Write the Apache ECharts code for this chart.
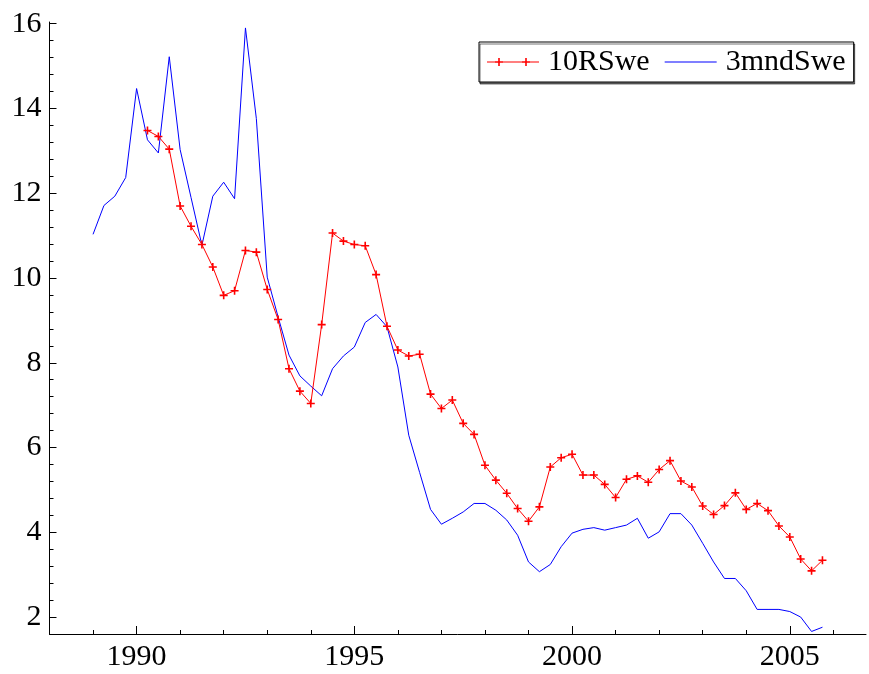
<!DOCTYPE html>
<html>
<head>
<meta charset="utf-8">
<script src="https://cdn.jsdelivr.net/npm/echarts@6/dist/echarts.min.js"></script>
<style>
html,body{margin:0;padding:0;background:#fff;}
#chart{width:869px;height:674px;}
</style>
</head>
<body>
<div id="chart"></div>
<script>
// ---- Data (quarterly) ----
var blueStart = 1989.0;   // 3mndSwe starts 1989 Q1
var redStart = 1990.25;   // 10RSwe starts 1990 Q2

var seriesNames = ['10RSwe', '3mndSwe'];

var swe3m = [
  11.03, 11.71, 11.93, 12.37,
  14.47, 13.26, 12.95, 15.22,
  13.03, 11.90, 10.77, 11.93,
  12.26, 11.87, 15.90, 13.76,
  10.02, 9.08, 8.18, 7.69,
  7.45, 7.22, 7.86, 8.16,
  8.37, 8.95, 9.14, 8.85,
  7.90, 6.29, 5.41, 4.54,
  4.19, 4.33, 4.48, 4.68,
  4.68, 4.52, 4.29, 3.93,
  3.30, 3.07, 3.24, 3.66,
  3.98, 4.07, 4.11, 4.05,
  4.11, 4.17, 4.33, 3.86,
  4.01, 4.44, 4.44, 4.17,
  3.74, 3.30, 2.91, 2.91,
  2.62, 2.18, 2.18, 2.18,
  2.13, 2.00, 1.66, 1.76
];

var swe10y = [
  13.48, 13.34, 13.04,
  11.70, 11.22, 10.79, 10.26,
  9.59, 9.70, 10.65, 10.61,
  9.73, 9.02, 7.86, 7.33,
  7.04, 8.90, 11.06, 10.87,
  10.79, 10.76, 10.08, 8.86,
  8.30, 8.16, 8.20, 7.26,
  6.92, 7.12, 6.57, 6.31,
  5.58, 5.23, 4.92, 4.56,
  4.26, 4.60, 5.54, 5.76,
  5.84, 5.35, 5.35, 5.13,
  4.82, 5.25, 5.33, 5.18,
  5.48, 5.69, 5.21, 5.07,
  4.62, 4.42, 4.63, 4.93,
  4.54, 4.68, 4.51, 4.15,
  3.89, 3.37, 3.09, 3.34
];

var xLabelYears = [1990, 1995, 2000, 2005];
var yLabelValues = [2, 4, 6, 8, 10, 12, 14, 16];

// ---- build ----
function toPairs(start, vals) {
  return vals.map(function (v, i) { return [start + i * 0.25, v]; });
}
var xMin = 1988, xMax = 2006.75, yMin = 1.6, yMax = 16.04;
var xMinorTicks = [];
for (var yr = 1988; yr <= 2006; yr++) xMinorTicks.push(yr);
var yMinorTicks = [];
for (var k = 4; k <= 40; k++) yMinorTicks.push(Math.round(k * 0.4 * 100) / 100);

var FONT = '"Liberation Serif", "Times New Roman", Times, serif';
var crossPath = 'path://M0,3.2h8v1.6h-8z M3.2,0h1.6v8h-1.6z';
var redLegendIcon = 'path://M0,3.5h52v1h-52z M8,3.2h8v1.6h-8z M11.2,0h1.6v8h-1.6z M35,3.2h8v1.6h-8z M38.2,0h1.6v8h-1.6z';
var blueLegendIcon = 'path://M0,0L0,0 M0,3.5h52v1h-52z M52,8L52,8';

var chart = echarts.init(document.getElementById('chart'), null, {renderer: 'canvas'});
chart.setOption({
  animation: false,
  backgroundColor: '#ffffff',
  grid: {left: 49.5, right: 3, top: 22, bottom: 40, containLabel: false, outerBoundsMode: 'none'},
  legend: {
    left: 479, top: 42,
    orient: 'horizontal',
    padding: [5, 8, 5, 8],
    itemGap: 15,
    itemWidth: 52, itemHeight: 8,
    backgroundColor: '#ffffff',
    borderColor: '#000000', borderWidth: 1,
    shadowColor: 'rgba(0,0,0,0.55)', shadowBlur: 0, shadowOffsetX: 1, shadowOffsetY: 2,
    itemStyle: {borderWidth: 0},
    textStyle: {fontFamily: FONT, fontSize: 30, color: '#000', lineHeight: 30, padding: [0, 0, 0, 4]},
    data: [
      {name: seriesNames[0], icon: redLegendIcon},
      {name: seriesNames[1], icon: blueLegendIcon}
    ]
  },
  xAxis: [{
    type: 'value', min: xMin, max: xMax,
    axisLine: {show: true, onZero: false, lineStyle: {color: '#000', width: 1}},
    axisTick: {show: true, inside: true, length: 4, customValues: xMinorTicks, lineStyle: {color: '#000', width: 1}},
    axisLabel: {show: true, customValues: xLabelYears, margin: 8, fontFamily: FONT, fontSize: 30, color: '#000',
      formatter: function (v) { return String(v); }},
    splitLine: {show: false}
  }, {
    type: 'value', min: xMin, max: xMax, position: 'bottom',
    axisLine: {show: false, onZero: false},
    axisTick: {show: true, inside: true, length: 8, customValues: xLabelYears, lineStyle: {color: '#000', width: 1}},
    axisLabel: {show: false},
    splitLine: {show: false}
  }],
  yAxis: [{
    type: 'value', min: yMin, max: yMax,
    axisLine: {show: true, onZero: false, lineStyle: {color: '#000', width: 1}},
    axisTick: {show: true, inside: true, length: 4, customValues: yMinorTicks, lineStyle: {color: '#000', width: 1}},
    axisLabel: {show: true, customValues: yLabelValues, margin: 8, fontFamily: FONT, fontSize: 30, color: '#000',
      formatter: function (v) { return String(v); }},
    splitLine: {show: false}
  }, {
    type: 'value', min: yMin, max: yMax, position: 'left',
    axisLine: {show: false, onZero: false},
    axisTick: {show: true, inside: true, length: 7, customValues: yLabelValues, lineStyle: {color: '#000', width: 1}},
    axisLabel: {show: false},
    splitLine: {show: false}
  }],
  series: [{
    name: seriesNames[0], type: 'line',
    xAxisIndex: 0, yAxisIndex: 0,
    data: toPairs(redStart, swe10y),
    symbol: crossPath, symbolSize: 8, showSymbol: true,
    itemStyle: {color: '#ff0000', borderWidth: 0},
    lineStyle: {color: '#ff0000', width: 1},
    z: 3
  }, {
    name: seriesNames[1], type: 'line',
    xAxisIndex: 0, yAxisIndex: 0,
    data: toPairs(blueStart, swe3m),
    symbol: 'none',
    itemStyle: {color: '#0000ff'},
    lineStyle: {color: '#0000ff', width: 1},
    z: 2
  }]
});
</script>
</body>
</html>
